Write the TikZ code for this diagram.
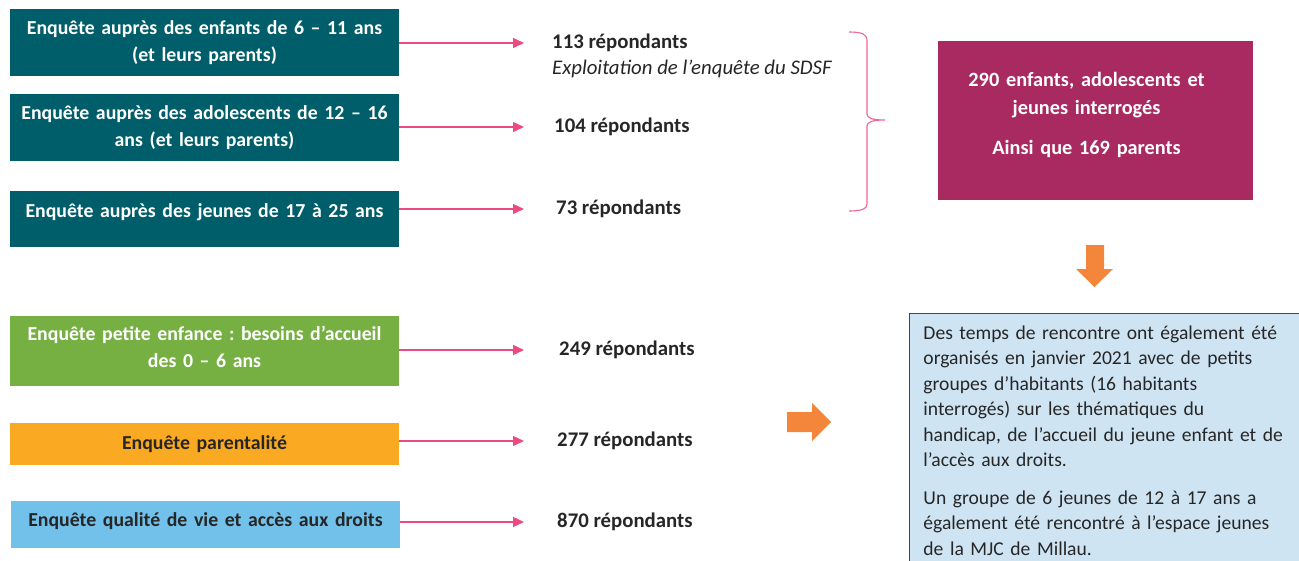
\documentclass[tikz,border=0pt]{standalone}
\usepackage{fontspec}
\setmainfont{Carlito}
\usetikzlibrary{arrows.meta}

\definecolor{tealbox}{RGB}{0,94,106}
\definecolor{greenbox}{RGB}{118,176,67}
\definecolor{orangebox}{RGB}{249,170,34}
\definecolor{skybox}{RGB}{114,193,235}
\definecolor{plumbox}{RGB}{169,42,97}
\definecolor{paleblue}{RGB}{207,228,243}
\definecolor{boxgray}{RGB}{70,70,70}
\definecolor{darktext}{RGB}{38,38,38}
\definecolor{linkpink}{RGB}{236,74,128}
\definecolor{blockorange}{RGB}{244,134,60}

\begin{document}
\frenchspacing
\begin{tikzpicture}
	[x=1pt, y=-1pt,
	 survey/.style={rectangle, minimum width=389pt, text width=385pt, align=center, inner sep=0pt,
	                font=\fontsize{19.8}{27}\selectfont\bfseries},
	 count/.style={anchor=west, inner sep=0pt, text=darktext, font=\fontsize{20.8}{27}\selectfont\bfseries},
	 feed/.style={draw=linkpink, line width=1.3pt, -{Triangle[length=11pt, width=10pt]}}]
	\useasboundingbox (0,0) rectangle (1299,560);
	\clip (0,0) rectangle (1299,560);

	% surveys
	\node[survey, fill=tealbox, text=white, minimum height=67pt] (E1) at (204.5,42.5)
		{Enquête auprès des enfants de 6 – 11 ans\\ (et leurs parents)};
	\node[survey, fill=tealbox, text=white, minimum height=67pt] (E2) at (204.5,127.5)
		{Enquête auprès des adolescents de 12 – 16\\ ans (et leurs parents)};
	\node[survey, fill=tealbox, text=white, minimum height=56pt, text height=15pt, text depth=18pt] (E3) at (204.5,219)
		{Enquête auprès des jeunes de 17 à 25 ans};
	\node[survey, fill=greenbox, text=white, minimum height=70pt, text height=15pt, text depth=37pt] (E4) at (204.5,351)
		{Enquête petite enfance : besoins d’accueil\\ des 0 – 6 ans};
	\node[survey, fill=orangebox, text=darktext, minimum height=42pt] (E5) at (204.5,444)
		{Enquête parentalité};
	\node[survey, fill=skybox, text=darktext, minimum height=47pt, text depth=10pt] (E6) at (205.5,524.5)
		{Enquête qualité de vie et accès aux droits};

	% answers
	\node[count] (C1) at (552,43) {113 répondants};
	\node[count, font=\fontsize{20.8}{27}\selectfont\itshape] (S) at (552,69) {Exploitation de l’enquête du SDSF};
	\node[count] (C2) at (554,127) {104 répondants};
	\node[count] (C3) at (556,209) {73 répondants};
	\node[count] (C4) at (559,350) {249 répondants};
	\node[count] (C5) at (557,441) {277 répondants};
	\node[count] (C6) at (557,522) {870 répondants};

	\draw[feed, shorten >=28pt] (E1.east |- C1.west) -- (C1.west);
	\draw[feed, shorten >=30pt] (E2.east |- C2.west) -- (C2.west);
	\draw[feed, shorten >=32pt] (E3.east |- C3.west) -- (C3.west);
	\draw[feed, shorten >=35pt] (E4.east |- C4.west) -- (C4.west);
	\draw[feed, shorten >=33pt] (E5.east |- C5.west) -- (C5.west);
	\draw[feed, shorten >=33pt] (E6.east |- C6.west) -- (C6.west);

	% brace
	\draw[linkpink!85, line width=1.1pt] (849,32) .. controls (862,32) and (867,34) .. (867,41)
		-- (867,114) .. controls (867,118) and (872,120) .. (885,120)
		.. controls (872,120) and (867,122) .. (867,126)
		-- (867,204) .. controls (867,209) and (862,211) .. (849,211);

	% total
	\node[fill=plumbox, text=white, minimum width=315pt, minimum height=159pt, text width=300pt,
	      align=center, inner sep=0pt, text height=15pt, text depth=84pt,
	      font=\fontsize{20.3}{28}\selectfont\bfseries] (T) at (1095.5,120.5)
		{\hspace*{-18pt}290 enfants, adolescents et\\ \hspace*{-18pt}jeunes interrogés\\[12pt]
		 \hspace*{-18pt}Ainsi que 169 parents};

	% block arrows
	\fill[blockorange] (1086,245) -- (1104,245) -- (1104,269) -- (1113,269) -- (1094.5,287)
		-- (1076,269) -- (1086,269) -- cycle;
	\fill[blockorange] (787,412) -- (812,412) -- (812,403) -- (831,422) -- (812,441)
		-- (812,432) -- (787,432) -- cycle;

	% meetings
	\node[anchor=north west, fill=paleblue, draw=boxgray, line width=0.9pt, text width=392pt,
	      align=left, inner xsep=14pt, inner ysep=12.5pt, text=darktext,
	      font=\fontsize{19.6}{25.4}\selectfont] (M) at (909,313)
		{Des temps de rencontre ont également été\\
		 organisés en janvier 2021 avec de petits\\
		 groupes d’habitants (16 habitants\\
		 interrogés) sur les thématiques du\\
		 handicap, de l’accueil du jeune enfant et de\\
		 l’accès aux droits.\\[12.6pt]
		 Un groupe de 6 jeunes de 12 à 17 ans a\\
		 également été rencontré à l’espace jeunes\\
		 de la MJC de Millau.};
\end{tikzpicture}
\end{document}
